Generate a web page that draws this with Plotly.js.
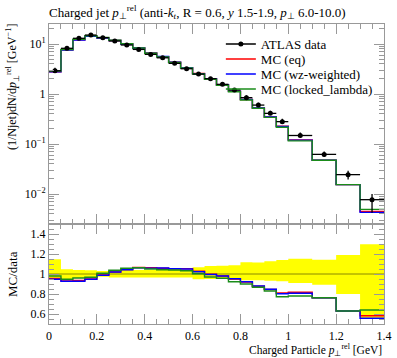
<!DOCTYPE html>
<html>
<head>
<meta charset="utf-8">
<script src="https://cdn.plot.ly/plotly-3.0.1.min.js"></script>
<style>html,body{margin:0;padding:0;background:#fff;}#plot{width:397px;height:358px;}</style>
</head>
<body>
<div id="plot"></div>
<script>
// Bin edges (GeV)
const binEdges = [0, 0.05, 0.1, 0.15, 0.2, 0.25, 0.3, 0.35, 0.4, 0.45, 0.5, 0.55, 0.6, 0.65, 0.7, 0.75, 0.8, 0.85, 0.9, 0.95, 1.0, 1.1, 1.2, 1.3, 1.4];
// ATLAS data values
const dataVals = [2.92, 8.2, 13.0, 15.1, 13.4, 11.5, 9.55, 7.8, 6.2, 5.3, 4.1, 3.2, 2.5, 2.03, 1.56, 1.2, 0.845, 0.6, 0.41, 0.28, 0.148, 0.062, 0.0244, 0.0077];
// relative data uncertainties (up / down)
const errUp   = [0.147, 0.047, 0.04, 0.037, 0.03, 0.04, 0.04, 0.04, 0.04, 0.04, 0.04, 0.04, 0.067, 0.08, 0.083, 0.087, 0.117, 0.115, 0.127, 0.14, 0.153, 0.143, 0.19, 0.297];
const errDown = [0.06, 0.05, 0.04, 0.04, 0.027, 0.035, 0.035, 0.035, 0.035, 0.035, 0.035, 0.035, 0.053, 0.05, 0.05, 0.057, 0.063, 0.063, 0.067, 0.073, 0.09, 0.107, 0.2, 0.45];
// MC / data ratios
const ratioEq     = [0.955, 0.93, 0.935, 0.95, 0.99, 1.02, 1.045, 1.065, 1.063, 1.057, 1.053, 1.053, 1.027, 0.997, 0.98, 0.95, 0.92, 0.877, 0.845, 0.81, 0.817, 0.763, 0.63, 0.583];
const ratioWz     = [0.947, 0.927, 0.927, 0.947, 0.987, 1.02, 1.043, 1.063, 1.057, 1.06, 1.053, 1.05, 1.023, 0.995, 0.98, 0.953, 0.923, 0.88, 0.847, 0.803, 0.807, 0.763, 0.63, 0.557];
const ratioLocked = [0.98, 0.947, 0.96, 0.967, 1.007, 1.037, 1.057, 1.063, 1.05, 1.043, 1.04, 1.033, 1.003, 0.97, 0.957, 0.923, 0.9, 0.867, 0.83, 0.773, 0.78, 0.763, 0.63, 0.64];
// tick labels
const mainTickVals = [0.01, 0.1, 1, 10];
const mainTickText = ['10<sup>−2</sup>', '10<sup>−1</sup>', '1', '10<sup>1</sup>'];
const ratioTickVals = [0.6, 0.8, 1, 1.2, 1.4];
const ratioTickText = ['0.6', '0.8', '1', '1.2', '1.4'];
const xTickVals = [0, 0.2, 0.4, 0.6, 0.8, 1, 1.2, 1.4];
const xTickText = ['0', '0.2', '0.4', '0.6', '0.8', '1', '1.2', '1.4'];

const FONT = 'Liberation Serif, serif';
const AXC = '#999999';

const centers = dataVals.map((_, i) => (binEdges[i] + binEdges[i + 1]) / 2);
const halfW = dataVals.map((_, i) => (binEdges[i + 1] - binEdges[i]) / 2);
const stepY = v => v.concat([v[v.length - 1]]);
const mcEq = ratioEq.map((r, i) => r * dataVals[i]);
const mcWz = ratioWz.map((r, i) => r * dataVals[i]);
const mcLocked = ratioLocked.map((r, i) => r * dataVals[i]);

const mcDefs = [
  {name: 'MC (eq)', color: '#ff0000', main: mcEq, ratio: ratioEq, leg: 'legend2'},
  {name: 'MC (wz-weighted)', color: '#0000ff', main: mcWz, ratio: ratioWz, leg: 'legend3'},
  {name: 'MC (locked_lambda)', color: '#1a8c1a', main: mcLocked, ratio: ratioLocked, leg: 'legend4'}
];

const traces = [];
// ratio band
traces.push({x: binEdges, y: stepY(errDown.map(e => 1 - e)), xaxis: 'x2', yaxis: 'y2', mode: 'lines',
  line: {shape: 'hv', width: 0, color: '#ffff00'}, showlegend: false, hoverinfo: 'skip'});
traces.push({x: binEdges, y: stepY(errUp.map(e => 1 + e)), xaxis: 'x2', yaxis: 'y2', mode: 'lines',
  line: {shape: 'hv', width: 0, color: '#ffff00'}, fill: 'tonexty', fillcolor: '#ffff00', showlegend: false, hoverinfo: 'skip'});
traces.push({x: [binEdges[0], binEdges[binEdges.length - 1]], y: [1, 1], xaxis: 'x2', yaxis: 'y2', mode: 'lines',
  line: {color: '#8a8a00', width: 1}, showlegend: false, hoverinfo: 'skip'});

mcDefs.forEach(d => {
  traces.push({x: binEdges, y: stepY(d.main), xaxis: 'x', yaxis: 'y', mode: 'lines', name: d.name,
    line: {shape: 'hv', color: d.color, width: 1.4}, legend: d.leg});
  traces.push({x: binEdges, y: stepY(d.ratio), xaxis: 'x2', yaxis: 'y2', mode: 'lines', name: d.name,
    line: {shape: 'hv', color: d.color, width: 1.4}, showlegend: false});
});

// data
traces.push({x: centers, y: dataVals, xaxis: 'x', yaxis: 'y', mode: 'markers', name: 'ATLAS data', showlegend: false,
  marker: {color: '#000', size: 5},
  error_x: {type: 'data', array: halfW, color: '#000', thickness: 1.3, width: 0},
  error_y: {type: 'data', symmetric: false, array: dataVals.map((v, i) => v * errUp[i]),
    arrayminus: dataVals.map((v, i) => v * errDown[i]), color: '#000', thickness: 1.3, width: 0}});
traces.push({x: [null], y: [null], xaxis: 'x', yaxis: 'y', mode: 'lines+markers', name: 'ATLAS data',
  line: {color: '#000', width: 1.4}, marker: {color: '#000', size: 5}, legend: 'legend'});

const minorLog = [];
for (let e = -3; e <= 1; e++) for (let k = 2; k <= 9; k++) minorLog.push(k * Math.pow(10, e));

const legBase = {x: 0.513, xanchor: 'left', yanchor: 'middle', bgcolor: 'rgba(0,0,0,0)',
  font: {family: FONT, size: 13, color: '#000'}, itemwidth: 30, borderwidth: 0};
const rowY = px => (324 - px) / 300;

const layout = {
  width: 397, height: 358,
  margin: {l: 49, r: 13, t: 24, b: 34},
  paper_bgcolor: '#fff', plot_bgcolor: '#fff',
  font: {family: FONT, size: 12, color: '#000'},
  title: {text: 'Charged jet <i>p</i><sub>⊥</sub><sup>rel</sup> (anti-<i>k</i><sub><i>t</i></sub>, R = 0.6, <i>y</i> 1.5-1.9, <i>p</i><sub>⊥</sub> 6.0-10.0)',
    x: 49 / 397, xanchor: 'left', xref: 'container', y: 1 - 12 / 358, yanchor: 'middle', yref: 'container',
    font: {family: FONT, size: 13, color: '#000'}},
  xaxis: {domain: [0, 1], range: [0, 1.4], anchor: 'y', showticklabels: false, ticks: 'inside', ticklen: 10,
    tickcolor: AXC, tickvals: xTickVals, showline: true, linecolor: AXC, linewidth: 1, mirror: 'allticks',
    showgrid: false, zeroline: false,
    minor: {dtick: 0.05, tick0: 0, ticks: 'inside', ticklen: 5, tickcolor: AXC, showgrid: false}},
  yaxis: {domain: [1 / 3, 1], type: 'log', range: [-2.6, 1.4], anchor: 'x', ticks: 'inside', ticklen: 10, tickcolor: AXC,
    tickvals: mainTickVals, ticktext: mainTickText, showline: true, linecolor: AXC, mirror: 'allticks',
    showgrid: false, zeroline: false, tickfont: {family: FONT, size: 12},
    minor: {tickvals: minorLog, ticks: 'inside', ticklen: 5, tickcolor: AXC, showgrid: false}},
  xaxis2: {domain: [0, 1], range: [0, 1.4], anchor: 'y2', ticks: 'inside', ticklen: 10, tickcolor: AXC,
    tickvals: xTickVals, ticktext: xTickText, showline: true, linecolor: AXC, mirror: 'allticks',
    showgrid: false, zeroline: false, tickfont: {family: FONT, size: 12}, ticklabelstandoff: 1,
    minor: {dtick: 0.05, tick0: 0, ticks: 'inside', ticklen: 5, tickcolor: AXC, showgrid: false}},
  yaxis2: {domain: [0, 1 / 3], range: [0.5, 1.5], anchor: 'x2', ticks: 'inside', ticklen: 10, tickcolor: AXC,
    tickvals: ratioTickVals, ticktext: ratioTickText, showline: true, linecolor: AXC, mirror: 'allticks',
    showgrid: false, zeroline: false, tickfont: {family: FONT, size: 12},
    minor: {dtick: 0.05, tick0: 0.5, ticks: 'inside', ticklen: 5, tickcolor: AXC, showgrid: false}},
  legend: Object.assign({y: rowY(44)}, legBase),
  legend2: Object.assign({y: rowY(59)}, legBase),
  legend3: Object.assign({y: rowY(74)}, legBase),
  legend4: Object.assign({y: rowY(89)}, legBase),
  annotations: [
    {text: '(1/Njet)dN/d<i>p</i><sub>⊥</sub><sup>rel</sup> [GeV<sup>−1</sup>]', textangle: -90, xref: 'paper', yref: 'paper',
      x: (13 - 49) / 335, y: rowY(87), xanchor: 'center', yanchor: 'middle', showarrow: false, font: {family: FONT, size: 12}},
    {text: 'MC/data', textangle: -90, xref: 'paper', yref: 'paper', x: (12 - 49) / 335, y: rowY(274),
      xanchor: 'center', yanchor: 'middle', showarrow: false, font: {family: FONT, size: 13}},
    {text: 'Charged Particle <i>p</i><sub>⊥</sub><sup>rel</sup> [GeV]', xref: 'paper', yref: 'paper', x: 1, y: rowY(349.5),
      xanchor: 'right', yanchor: 'middle', showarrow: false, font: {family: FONT, size: 11.5}}
  ]
};

Plotly.newPlot('plot', traces, layout, {displayModeBar: false, staticPlot: true});
</script>
</body>
</html>
